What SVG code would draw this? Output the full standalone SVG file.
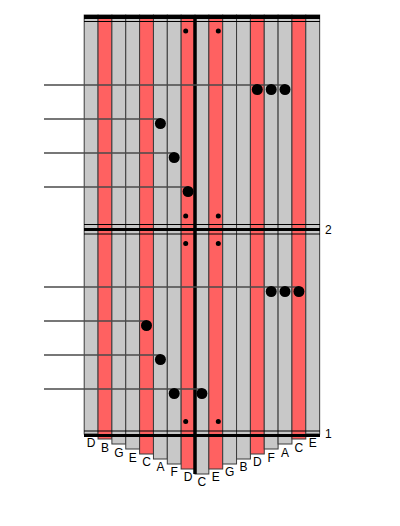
<svg xmlns="http://www.w3.org/2000/svg" width="400" height="526" viewBox="0 0 400 526">
<style>
.g{fill:#c8c8c8;stroke:#3a3a3a;stroke-width:1}
.r{fill:#ff6161;stroke:#3a3a3a;stroke-width:1}
.lbl{font-family:"Liberation Sans",Arial,sans-serif;font-size:12px;fill:#000;text-anchor:middle}
.num{font-family:"Liberation Sans",Arial,sans-serif;font-size:12px;fill:#000}
.lead{stroke:#4a4a4a;stroke-width:1.3;fill:none}
.bar{stroke:#000;fill:none}
.big{fill:#000}
.sm{fill:#000}
</style>
<rect width="400" height="526" fill="#fff"/>
<g id="tines">
<g id="t0"><rect class="g" x="84.2" y="15" width="13.85" height="419"/><text class="lbl" x="91.1" y="447.1">D</text></g>
<g id="t1"><rect class="r" x="98.05" y="15" width="13.85" height="424"/><text class="lbl" x="105" y="451.9">B</text></g>
<g id="t2"><rect class="g" x="111.9" y="15" width="13.85" height="429"/><text class="lbl" x="118.8" y="456.7">G</text></g>
<g id="t3"><rect class="g" x="125.75" y="15" width="13.85" height="434"/><text class="lbl" x="132.7" y="461.5">E</text></g>
<g id="t4"><rect class="r" x="139.6" y="15" width="13.85" height="439"/><text class="lbl" x="146.5" y="466.3">C</text></g>
<g id="t5"><rect class="g" x="153.45" y="15" width="13.85" height="444"/><text class="lbl" x="160.4" y="471.1">A</text></g>
<g id="t6"><rect class="g" x="167.3" y="15" width="13.85" height="449"/><text class="lbl" x="174.2" y="475.9">F</text></g>
<g id="t7"><rect class="r" x="181.15" y="15" width="13.85" height="454"/><text class="lbl" x="188.1" y="480.7">D</text></g>
<g id="t8"><rect class="g" x="195" y="15" width="13.85" height="459"/><text class="lbl" x="201.9" y="485.5">C</text></g>
<g id="t9"><rect class="r" x="208.85" y="15" width="13.85" height="454"/><text class="lbl" x="215.8" y="480.7">E</text></g>
<g id="t10"><rect class="g" x="222.7" y="15" width="13.85" height="449"/><text class="lbl" x="229.6" y="475.9">G</text></g>
<g id="t11"><rect class="g" x="236.55" y="15" width="13.85" height="444"/><text class="lbl" x="243.5" y="471.1">B</text></g>
<g id="t12"><rect class="r" x="250.4" y="15" width="13.85" height="439"/><text class="lbl" x="257.3" y="466.3">D</text></g>
<g id="t13"><rect class="g" x="264.25" y="15" width="13.85" height="434"/><text class="lbl" x="271.2" y="461.5">F</text></g>
<g id="t14"><rect class="g" x="278.1" y="15" width="13.85" height="429"/><text class="lbl" x="285" y="456.7">A</text></g>
<g id="t15"><rect class="r" x="291.95" y="15" width="13.85" height="424"/><text class="lbl" x="298.9" y="451.9">C</text></g>
<g id="t16"><rect class="g" x="305.8" y="15" width="13.85" height="419"/><text class="lbl" x="312.7" y="447.1">E</text></g>
</g>
<g id="bars">
<line class="bar" x1="84" y1="17" x2="320" y2="17" stroke-width="4"/>
<line class="bar" x1="84" y1="21.5" x2="320" y2="21.5" stroke-width="1"/>
<line class="bar" x1="84" y1="224.5" x2="320" y2="224.5" stroke-width="1"/>
<line class="bar" x1="84" y1="229.5" x2="320" y2="229.5" stroke-width="3"/>
<line class="bar" x1="84" y1="234" x2="320" y2="234" stroke-width="1"/>
<line class="bar" x1="84" y1="431" x2="320" y2="431" stroke-width="1"/>
<line class="bar" x1="84" y1="435.5" x2="320" y2="435.5" stroke-width="3"/>
<line class="bar" x1="195" y1="15" x2="195" y2="474" stroke-width="3.5"/>
<text class="num" x="325" y="234">2</text>
<text class="num" x="325" y="438">1</text>
</g>
<g id="connectors">
<line class="lead" x1="44" y1="85" x2="285" y2="85"/>
<line class="lead" x1="44" y1="119" x2="160.4" y2="119"/>
<line class="lead" x1="44" y1="153" x2="174.2" y2="153"/>
<line class="lead" x1="44" y1="187" x2="188.1" y2="187"/>
<line class="lead" x1="44" y1="287" x2="298.9" y2="287"/>
<line class="lead" x1="44" y1="321" x2="146.5" y2="321"/>
<line class="lead" x1="44" y1="355" x2="160.4" y2="355"/>
<line class="lead" x1="44" y1="389" x2="201.9" y2="389"/>
</g>
<g id="marks">
<circle class="sm" cx="185.7" cy="31" r="2.5"/>
<circle class="sm" cx="218.3" cy="31" r="2.5"/>
<circle class="sm" cx="185.7" cy="216" r="2.5"/>
<circle class="sm" cx="218.3" cy="216" r="2.5"/>
<circle class="sm" cx="185.7" cy="243.5" r="2.5"/>
<circle class="sm" cx="218.3" cy="243.5" r="2.5"/>
<circle class="sm" cx="185.7" cy="421.5" r="2.5"/>
<circle class="sm" cx="218.3" cy="421.5" r="2.5"/>
</g>
<g id="notes">
<circle class="big" cx="257.3" cy="89.5" r="5.5"/>
<circle class="big" cx="271.2" cy="89.5" r="5.5"/>
<circle class="big" cx="285" cy="89.5" r="5.5"/>
<circle class="big" cx="160.4" cy="123.5" r="5.5"/>
<circle class="big" cx="174.2" cy="157.5" r="5.5"/>
<circle class="big" cx="188.1" cy="191.5" r="5.5"/>
<circle class="big" cx="271.2" cy="291.5" r="5.5"/>
<circle class="big" cx="285" cy="291.5" r="5.5"/>
<circle class="big" cx="298.9" cy="291.5" r="5.5"/>
<circle class="big" cx="146.5" cy="325.5" r="5.5"/>
<circle class="big" cx="160.4" cy="359.5" r="5.5"/>
<circle class="big" cx="174.2" cy="393.5" r="5.5"/>
<circle class="big" cx="201.9" cy="393.5" r="5.5"/>
</g>
</svg>
